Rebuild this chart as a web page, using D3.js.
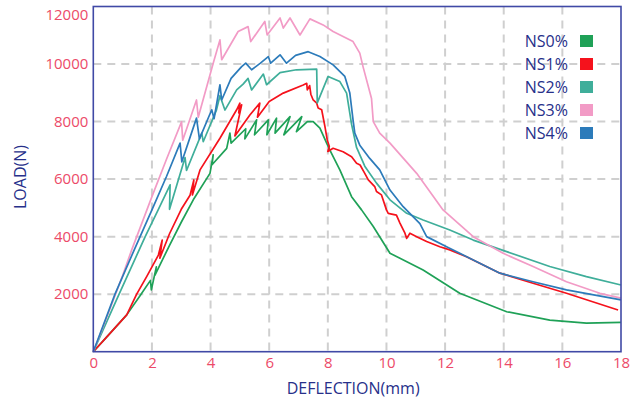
<!DOCTYPE html>
<html>
<head>
<meta charset="utf-8">
<script src="https://cdn.jsdelivr.net/npm/d3@7"></script>
<style>
  html, body { margin: 0; padding: 0; background: #fff; }
  svg { display: block; }
  text { font-family: "Open Sans", "Noto Sans", sans-serif; }
</style>
</head>
<body>
<svg id="chart" width="637" height="401"></svg>
<script>
// Load–deflection curves, [deflection (mm), load (N)]
const seriesNames = ["NS0%", "NS1%", "NS2%", "NS3%", "NS4%"];
const seriesColors = ["#1fa157", "#f5121c", "#3fae9a", "#f29bc6", "#2c7bba"];

const ns0 = [[0,0],[0.5,560],[1.14,1280],[1.6,1950],[1.95,2480],[1.98,2150],[2.15,2950],[2.1,2650],
  [2.6,3700],[3.0,4500],[3.41,5280],[3.98,6200],[4.09,6840],[4.05,6500],[4.55,7070],[4.66,7600],
  [4.7,7250],[5.2,7750],[5.17,7400],[5.57,8060],[5.5,7540],[5.97,8060],[5.92,7540],[6.25,8120],
  [6.2,7600],[6.71,8170],[6.5,7540],[7.11,8170],[6.93,7650],[7.3,8000],[7.5,8000],[7.73,7770],
  [7.96,7250],[8.07,7010],[8.41,6320],[8.81,5390],[9.15,4930],[9.55,4350],[10.12,3420],[10.46,3250],
  [11.25,2840],[12.5,2030],[14.1,1390],[15.57,1100],[16.82,990],[18.0,1020]];

const ns1 = [[0,0],[0.5,560],[1.14,1280],[1.48,2000],[1.82,2610],[2.22,3360],[2.35,3880],[2.27,3250],
  [2.6,4100],[3.0,4950],[3.3,5440],[3.43,5970],[3.38,5450],[3.64,6320],[4.32,7420],[4.89,8410],
  [5.0,8640],[4.96,8300],[5.06,8580],[4.83,7500],[5.34,8230],[5.68,8640],[5.6,8150],[6.0,8700],
  [6.48,8990],[7.16,9270],[7.28,9330],[7.3,9100],[7.38,9250],[7.42,8950],[7.5,8750],[7.62,8640],
  [7.67,8470],[7.79,8410],[7.9,7830],[7.98,7360],[8.05,7130],[8.0,6960],[8.18,7070],[8.52,6950],
  [8.81,6780],[8.98,6550],[9.1,6490],[9.26,6200],[9.38,5970],[9.6,5740],[9.66,5570],[9.83,5450],
  [10.0,4930],[10.06,4810],[10.34,4750],[10.46,4470],[10.63,4120],[10.69,3940],[10.8,4120],
  [11.03,4000],[11.37,3830],[11.82,3650],[12.16,3540],[12.73,3300],[13.87,2730],[15.0,2380],
  [16.14,2030],[17.9,1450]];

const ns2 = [[0,0],[0.88,2000],[1.77,4000],[2.2,4900],[2.62,5800],[2.6,4950],[3.13,6750],[3.18,6300],
  [3.7,7600],[3.75,7300],[4.2,8400],[4.32,8900],[4.49,8400],[4.89,9100],[5.11,9300],[5.28,9500],
  [5.4,9100],[5.8,9650],[5.91,9280],[6.37,9700],[6.93,9800],[7.62,9820],[7.64,8650],[8.01,9570],
  [8.41,9390],[8.64,8990],[8.81,7900],[8.98,7100],[9.26,6450],[9.66,5860],[10.12,5280],[10.69,4810],
  [11.25,4580],[12.16,4230],[12.96,3880],[14.1,3480],[15.57,2960],[16.82,2610],[18.0,2320]];

const ns3 = [[0,0],[0.5,1300],[1.0,2650],[1.31,3540],[2.0,5390],[2.5,6700],[3.01,7990],[3.05,7350],
  [3.52,8750],[3.58,8150],[4.09,10030],[4.32,10840],[4.38,10150],[4.94,11130],[5.28,11300],
  [5.37,10780],[5.85,11480],[5.93,11010],[6.37,11600],[6.48,11250],[6.71,11600],[7.05,11010],
  [7.39,11570],[7.84,11360],[8.18,11130],[8.52,10960],[8.86,10780],[9.09,10380],[9.2,9910],
  [9.49,8800],[9.55,8000],[9.77,7600],[10.12,7250],[11.03,6200],[11.93,4930],[12.96,4000],
  [13.98,3420],[15.0,2960],[16.14,2430],[17.28,2030],[18.0,1860]];

const ns4 = [[0,0],[0.74,2000],[1.4,3550],[2.0,4930],[2.5,6100],[2.96,7250],[3.02,6600],[3.52,8120],
  [3.62,7400],[4.04,8410],[4.12,8100],[4.32,9280],[4.38,8750],[4.7,9500],[5.06,9910],[5.2,10030],
  [5.4,9800],[5.7,10030],[5.97,10260],[6.05,10030],[6.37,10320],[6.59,10030],[6.9,10300],
  [7.16,10380],[7.33,10430],[7.73,10260],[8.18,9970],[8.58,9570],[8.75,8990],[8.86,8060],
  [8.92,7600],[9.09,7180],[9.43,6720],[9.77,6320],[10.12,5620],[10.57,5040],[11.14,4450],
  [11.37,4000],[12.05,3650],[12.5,3420],[13.87,2730],[15.0,2430],[16.14,2150],[18.0,1800]];

const seriesData = [ns0, ns1, ns2, ns3, ns4];

const xTicks = [0, 2, 4, 6, 8, 10, 12, 14, 16, 18];
const yTicks = [2000, 4000, 6000, 8000, 10000, 12000];

const svg = d3.select("#chart");
const x = d3.scaleLinear().domain([0, 18]).range([93.3, 621]);
const y = d3.scaleLinear().domain([0, 12000]).range([351.7, 6.5]);

const frameColor = "#4049a6";
const tickColor = "#ec4a68";
const titleColor = "#27308a";

// dashed grid
const grid = svg.append("g");
grid.selectAll("line.v").data(xTicks.filter(t => t > 0 && t < 18)).join("line")
  .attr("x1", d => x(d)).attr("x2", d => x(d))
  .attr("y1", y(12000)).attr("y2", y(0))
  .attr("stroke", "#cfcfcf").attr("stroke-width", 2).attr("stroke-dasharray", "8,6");
grid.selectAll("line.h").data(yTicks.filter(t => t < 12000)).join("line")
  .attr("x1", x(0)).attr("x2", x(18))
  .attr("y1", d => y(d)).attr("y2", d => y(d))
  .attr("stroke", "#cfcfcf").attr("stroke-width", 2).attr("stroke-dasharray", "8,6");

// curves
const line = d3.line().x(d => x(d[0])).y(d => y(d[1]));
svg.append("g").selectAll("path").data(seriesData).join("path")
  .attr("d", line)
  .attr("fill", "none")
  .attr("stroke", (d, i) => seriesColors[i])
  .attr("stroke-width", 1.7)
  .attr("stroke-linejoin", "round");

// frame
svg.append("rect")
  .attr("x", x(0)).attr("y", y(12000))
  .attr("width", x(18) - x(0)).attr("height", y(0) - y(12000))
  .attr("fill", "none").attr("stroke", frameColor).attr("stroke-width", 1.6);

// axes
const xAxis = svg.append("g").attr("transform", `translate(0,${y(0)})`)
  .call(d3.axisBottom(x).tickValues(xTicks).tickSize(0).tickPadding(6).tickFormat(d3.format("d")));
const yAxis = svg.append("g").attr("transform", `translate(${x(0)},0)`)
  .call(d3.axisLeft(y).tickValues(yTicks).tickSize(0).tickPadding(5).tickFormat(d3.format("d")));
[xAxis, yAxis].forEach(g => {
  g.select(".domain").remove();
  g.selectAll("text").attr("fill", tickColor)
    .style("font-family", "'Open Sans', sans-serif").style("font-size", "15px");
});
xAxis.selectAll("text").attr("dy", "0.72em");
yAxis.selectAll("text").filter(d => d === 12000).attr("dy", "0.85em");

// axis titles
svg.append("text")
  .attr("x", (x(0) + x(18)) / 2 - 4).attr("y", 394)
  .attr("text-anchor", "middle").attr("fill", titleColor)
  .style("font-size", "16px").text("DEFLECTION(mm)");
svg.append("text")
  .attr("transform", "translate(26,177) rotate(-90)")
  .attr("text-anchor", "middle").attr("fill", titleColor)
  .style("font-size", "16px").text("LOAD(N)");

// legend
const legend = svg.append("g");
const ly = d3.scalePoint().domain(seriesNames).range([41, 133]);
seriesNames.forEach((name, i) => {
  legend.append("text")
    .attr("x", 568).attr("y", ly(name)).attr("dy", "0.36em")
    .attr("text-anchor", "end").attr("fill", titleColor)
    .style("font-size", "16px").text(name);
  legend.append("rect")
    .attr("x", 580).attr("y", ly(name) - 6)
    .attr("width", 13).attr("height", 12)
    .attr("fill", seriesColors[i]);
});
</script>
</body>
</html>
